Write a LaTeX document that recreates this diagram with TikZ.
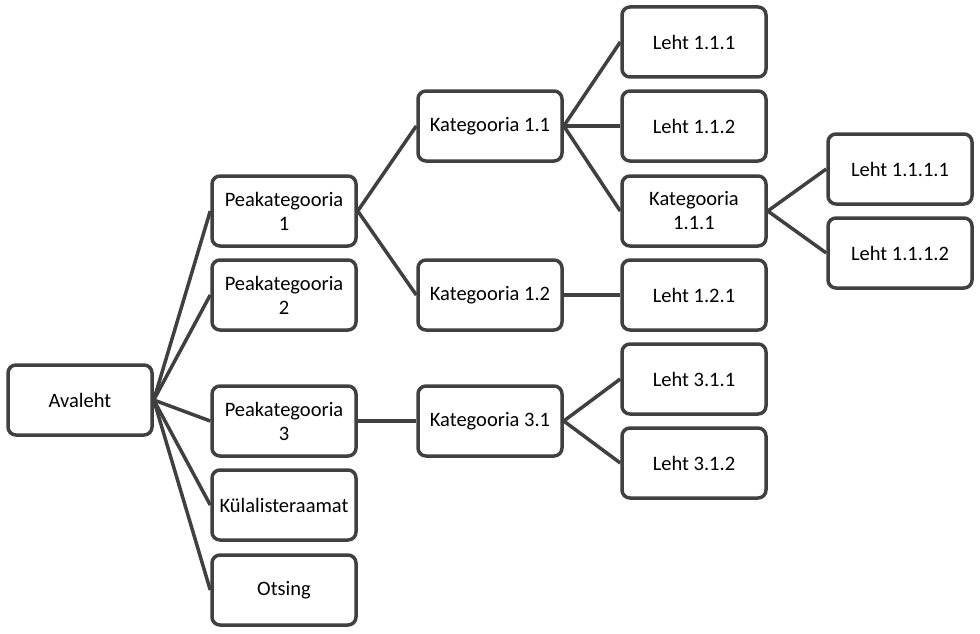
\documentclass[tikz,border=0pt]{standalone}
\usepackage{fontspec}
\setmainfont{Carlito}
\definecolor{linegray}{RGB}{64,64,64}
\begin{document}
\begin{tikzpicture}[x=1pt, y=-1pt,
    box/.style={rectangle, rounded corners=8pt, line width=3.5pt, draw=linegray, fill=white,
      minimum width=144pt, minimum height=70pt, align=center, inner sep=2pt,
      font=\fontsize{20.5}{24}\selectfont},
    link/.style={line width=3.5pt, draw=linegray}]
  \useasboundingbox (0,0) rectangle (980,634);
  % level 0
  \node[box] at (80,400) (avaleht) {Avaleht};
  % level 1
  \node[box] at (284,211) (pk1) {Peakategooria\\1};
  \node[box] at (284,295) (pk2) {Peakategooria\\2};
  \node[box] at (284,421) (pk3) {Peakategooria\\3};
  \node[box] at (284,505) (kyla) {Külalisteraamat};
  \node[box] at (284,590) (otsing) {Otsing};
  % level 2
  \node[box] at (490,126) (k11) {Kategooria 1.1};
  \node[box] at (490,295) (k12) {Kategooria 1.2};
  \node[box] at (490,421) (k31) {Kategooria 3.1};
  % level 3
  \node[box] at (694,42) (l111) {Leht 1.1.1};
  \node[box] at (694,126) (l112) {Leht 1.1.2};
  \node[box] at (694,211) (k111) {Kategooria\\1.1.1};
  \node[box] at (694,295) (l121) {Leht 1.2.1};
  \node[box] at (694,379) (l311) {Leht 3.1.1};
  \node[box] at (694,463) (l312) {Leht 3.1.2};
  % level 4
  \node[box] at (900,169) (l1111) {Leht 1.1.1.1};
  \node[box] at (900,253) (l1112) {Leht 1.1.1.2};
  % links
  \draw[link] (avaleht.east) -- (pk1.west);
  \draw[link] (avaleht.east) -- (pk2.west);
  \draw[link] (avaleht.east) -- (pk3.west);
  \draw[link] (avaleht.east) -- (kyla.west);
  \draw[link] (avaleht.east) -- (otsing.west);
  \draw[link] (pk1.east) -- (k11.west);
  \draw[link] (pk1.east) -- (k12.west);
  \draw[link] (pk3.east) -- (k31.west);
  \draw[link] (k11.east) -- (l111.west);
  \draw[link] (k11.east) -- (l112.west);
  \draw[link] (k11.east) -- (k111.west);
  \draw[link] (k12.east) -- (l121.west);
  \draw[link] (k31.east) -- (l311.west);
  \draw[link] (k31.east) -- (l312.west);
  \draw[link] (k111.east) -- (l1111.west);
  \draw[link] (k111.east) -- (l1112.west);
\end{tikzpicture}
\end{document}
